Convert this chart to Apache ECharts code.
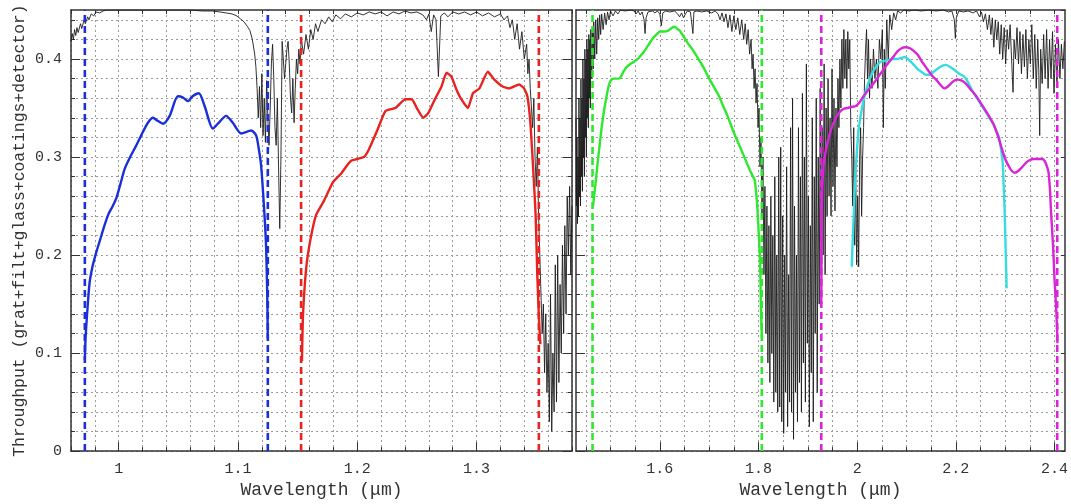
<!DOCTYPE html>
<html>
<head>
<meta charset="utf-8">
<script src="https://cdn.jsdelivr.net/npm/echarts@6/dist/echarts.min.js"></script>
<style>html,body{margin:0;padding:0;background:#fff;}#c{width:1071px;height:504px;}</style>
</head>
<body>
<div id="c"></div>
<script>
// ---------- tick values ----------
const leftXMinor = [0.96,0.98,1.00,1.02,1.04,1.06,1.08,1.10,1.12,1.14,1.16,1.18,1.20,1.22,1.24,1.26,1.28,1.30,1.32,1.34,1.36,1.38];
const leftXLabels = [1, 1.1, 1.2, 1.3];
const rightXMinor = [1.45,1.50,1.55,1.60,1.65,1.70,1.75,1.80,1.85,1.90,1.95,2.00,2.05,2.10,2.15,2.20,2.25,2.30,2.35,2.40];
const rightXLabels = [1.6, 1.8, 2, 2.2, 2.4];
const yMinor = [0,0.02,0.04,0.06,0.08,0.10,0.12,0.14,0.16,0.18,0.20,0.22,0.24,0.26,0.28,0.30,0.32,0.34,0.36,0.38,0.40,0.42,0.44];
const yLabels = [0, 0.1, 0.2, 0.3, 0.4];

// ---------- filter edge markers (dashed) ----------
const blueEdges = [0.9716, 1.125];
const redEdges = [1.1529, 1.3522];
const greenEdges = [1.4635, 1.8066];
const magentaEdges = [1.9272, 2.4055];

// ---------- atmospheric transmission (scaled) ----------
const telluricLeft = [
[0.960,0.418],[0.961,0.426],[0.962,0.420],[0.963,0.430],[0.964,0.424],[0.965,0.432],[0.966,0.427],[0.968,0.436],[0.969,0.431],[0.971,0.440],[0.972,0.436],[0.974,0.443],[0.975,0.440],[0.977,0.446],[0.979,0.444],[0.981,0.448],[0.984,0.447],[0.987,0.449],[0.990,0.450],[1.000,0.450],[1.020,0.450],[1.040,0.450],[1.060,0.450],[1.070,0.449],[1.078,0.449],[1.085,0.448],[1.090,0.447],[1.095,0.446],[1.099,0.444],[1.102,0.441],[1.105,0.438],[1.108,0.433],[1.110,0.429],[1.112,0.420],[1.114,0.405],[1.115,0.392],[1.116,0.370],[1.117,0.340],[1.118,0.372],[1.119,0.330],[1.120,0.385],[1.121,0.322],[1.122,0.360],[1.123,0.315],[1.124,0.378],[1.125,0.340],[1.126,0.312],[1.127,0.350],[1.128,0.395],[1.129,0.415],[1.130,0.380],[1.131,0.330],[1.132,0.312],[1.133,0.360],[1.134,0.290],[1.135,0.227],[1.136,0.300],[1.137,0.418],[1.138,0.400],[1.139,0.380],[1.140,0.395],[1.141,0.410],[1.142,0.418],[1.143,0.395],[1.144,0.360],[1.145,0.345],[1.146,0.380],[1.147,0.335],[1.148,0.370],[1.149,0.400],[1.150,0.385],[1.151,0.410],[1.152,0.395],[1.153,0.420],[1.155,0.405],[1.157,0.425],[1.159,0.410],[1.161,0.430],[1.163,0.420],[1.165,0.436],[1.167,0.428],[1.170,0.440],[1.173,0.436],[1.176,0.443],[1.179,0.438],[1.182,0.445],[1.186,0.441],[1.190,0.446],[1.195,0.443],[1.200,0.447],[1.205,0.445],[1.210,0.448],[1.215,0.446],[1.220,0.448],[1.225,0.444],[1.230,0.448],[1.235,0.446],[1.240,0.449],[1.245,0.447],[1.250,0.448],[1.255,0.445],[1.258,0.440],[1.260,0.446],[1.262,0.428],[1.264,0.445],[1.266,0.440],[1.268,0.382],[1.270,0.444],[1.273,0.447],[1.276,0.443],[1.280,0.448],[1.285,0.446],[1.290,0.448],[1.295,0.445],[1.300,0.448],[1.305,0.444],[1.310,0.447],[1.315,0.443],[1.320,0.446],[1.323,0.440],[1.326,0.444],[1.328,0.432],[1.330,0.440],[1.332,0.420],[1.334,0.436],[1.336,0.410],[1.338,0.428],[1.340,0.400],[1.342,0.415],[1.343,0.385],[1.344,0.400],[1.345,0.370],[1.347,0.330],[1.348,0.360],[1.349,0.300],[1.350,0.270],[1.351,0.310],[1.352,0.240],[1.353,0.200],[1.354,0.160],[1.355,0.120],[1.356,0.150],[1.357,0.080],[1.358,0.140],[1.359,0.060],[1.360,0.110],[1.361,0.030],[1.362,0.160],[1.363,0.020],[1.364,0.100],[1.365,0.040],[1.366,0.190],[1.367,0.050],[1.368,0.200],[1.369,0.070],[1.370,0.170],[1.371,0.100],[1.372,0.210],[1.373,0.120],[1.374,0.230],[1.375,0.140],[1.376,0.260],[1.377,0.200],[1.378,0.270],[1.379,0.180],[1.380,0.250]
];
const telluricRight = [
[1.430,0.340],[1.431,0.250],[1.432,0.320],[1.433,0.232],[1.434,0.300],[1.435,0.240],[1.436,0.360],[1.437,0.260],[1.438,0.340],[1.439,0.250],[1.440,0.380],[1.441,0.280],[1.442,0.360],[1.443,0.265],[1.444,0.400],[1.445,0.300],[1.446,0.380],[1.447,0.280],[1.448,0.410],[1.449,0.320],[1.450,0.400],[1.451,0.300],[1.452,0.420],[1.453,0.340],[1.454,0.410],[1.455,0.330],[1.456,0.425],[1.457,0.360],[1.458,0.420],[1.459,0.350],[1.460,0.430],[1.462,0.380],[1.463,0.432],[1.465,0.390],[1.466,0.438],[1.468,0.400],[1.470,0.440],[1.472,0.405],[1.474,0.442],[1.476,0.420],[1.478,0.445],[1.480,0.425],[1.482,0.446],[1.485,0.430],[1.488,0.447],[1.491,0.435],[1.494,0.448],[1.497,0.440],[1.500,0.449],[1.505,0.444],[1.510,0.449],[1.515,0.446],[1.520,0.450],[1.530,0.449],[1.540,0.450],[1.548,0.449],[1.552,0.446],[1.556,0.449],[1.560,0.445],[1.564,0.448],[1.568,0.440],[1.570,0.426],[1.572,0.442],[1.576,0.448],[1.580,0.446],[1.585,0.449],[1.590,0.447],[1.595,0.449],[1.600,0.446],[1.603,0.434],[1.606,0.447],[1.612,0.449],[1.620,0.448],[1.630,0.449],[1.636,0.446],[1.640,0.443],[1.644,0.447],[1.648,0.442],[1.652,0.446],[1.656,0.449],[1.662,0.448],[1.667,0.426],[1.669,0.448],[1.675,0.449],[1.685,0.448],[1.695,0.449],[1.705,0.447],[1.712,0.449],[1.718,0.446],[1.722,0.440],[1.726,0.447],[1.730,0.438],[1.734,0.446],[1.738,0.432],[1.742,0.445],[1.746,0.428],[1.750,0.444],[1.754,0.430],[1.758,0.442],[1.762,0.425],[1.766,0.440],[1.770,0.420],[1.773,0.436],[1.776,0.415],[1.779,0.430],[1.782,0.405],[1.785,0.420],[1.787,0.390],[1.789,0.405],[1.791,0.370],[1.793,0.390],[1.795,0.355],[1.797,0.375],[1.799,0.330],[1.801,0.350],[1.803,0.290],[1.805,0.320],[1.807,0.240],[1.809,0.300],[1.811,0.180],[1.813,0.270],[1.815,0.120],[1.817,0.250],[1.819,0.090],[1.821,0.230],[1.823,0.070],[1.825,0.260],[1.827,0.100],[1.829,0.220],[1.831,0.050],[1.833,0.280],[1.835,0.060],[1.837,0.200],[1.839,0.040],[1.841,0.300],[1.843,0.045],[1.845,0.310],[1.847,0.030],[1.849,0.240],[1.851,0.018],[1.853,0.200],[1.855,0.060],[1.857,0.290],[1.859,0.025],[1.861,0.180],[1.863,0.050],[1.865,0.330],[1.867,0.040],[1.869,0.360],[1.871,0.012],[1.873,0.250],[1.875,0.060],[1.877,0.200],[1.879,0.030],[1.881,0.330],[1.883,0.070],[1.885,0.280],[1.887,0.040],[1.889,0.365],[1.891,0.090],[1.893,0.300],[1.895,0.050],[1.897,0.395],[1.899,0.110],[1.901,0.260],[1.903,0.025],[1.905,0.230],[1.907,0.080],[1.909,0.340],[1.911,0.030],[1.913,0.280],[1.915,0.120],[1.917,0.360],[1.919,0.060],[1.921,0.300],[1.923,0.150],[1.925,0.370],[1.927,0.180],[1.929,0.330],[1.931,0.200],[1.933,0.395],[1.935,0.180],[1.937,0.350],[1.939,0.240],[1.941,0.380],[1.943,0.260],[1.945,0.340],[1.947,0.240],[1.949,0.390],[1.951,0.270],[1.953,0.360],[1.955,0.245],[1.957,0.350],[1.959,0.290],[1.961,0.380],[1.963,0.330],[1.965,0.400],[1.967,0.350],[1.969,0.420],[1.971,0.370],[1.973,0.430],[1.975,0.380],[1.977,0.420],[1.979,0.370],[1.981,0.428],[1.983,0.390],[1.985,0.420],[1.987,0.330],[1.989,0.300],[1.991,0.250],[1.993,0.330],[1.995,0.210],[1.997,0.290],[1.999,0.190],[2.001,0.260],[2.003,0.188],[2.005,0.300],[2.007,0.330],[2.009,0.240],[2.011,0.300],[2.013,0.330],[2.015,0.380],[2.017,0.410],[2.019,0.430],[2.021,0.380],[2.023,0.420],[2.025,0.360],[2.027,0.400],[2.030,0.370],[2.033,0.410],[2.036,0.380],[2.039,0.400],[2.042,0.370],[2.045,0.420],[2.048,0.400],[2.051,0.430],[2.053,0.330],[2.055,0.410],[2.057,0.370],[2.060,0.440],[2.063,0.400],[2.066,0.445],[2.070,0.430],[2.074,0.447],[2.078,0.440],[2.082,0.449],[2.088,0.447],[2.095,0.450],[2.105,0.449],[2.115,0.450],[2.130,0.449],[2.145,0.450],[2.160,0.449],[2.175,0.450],[2.185,0.448],[2.192,0.449],[2.197,0.440],[2.199,0.421],[2.201,0.442],[2.206,0.449],[2.215,0.448],[2.225,0.449],[2.235,0.447],[2.242,0.449],[2.248,0.443],[2.252,0.448],[2.256,0.438],[2.260,0.446],[2.264,0.430],[2.268,0.445],[2.271,0.425],[2.274,0.442],[2.277,0.412],[2.280,0.440],[2.283,0.420],[2.286,0.438],[2.289,0.405],[2.292,0.435],[2.295,0.400],[2.298,0.432],[2.301,0.395],[2.304,0.430],[2.307,0.410],[2.310,0.435],[2.313,0.400],[2.316,0.366],[2.318,0.420],[2.321,0.400],[2.324,0.432],[2.327,0.395],[2.330,0.428],[2.333,0.385],[2.336,0.425],[2.339,0.392],[2.342,0.430],[2.345,0.380],[2.348,0.420],[2.351,0.395],[2.354,0.435],[2.357,0.380],[2.360,0.425],[2.363,0.370],[2.366,0.420],[2.368,0.390],[2.370,0.322],[2.372,0.410],[2.375,0.375],[2.378,0.425],[2.381,0.380],[2.384,0.430],[2.387,0.370],[2.390,0.420],[2.393,0.380],[2.396,0.428],[2.399,0.365],[2.402,0.415],[2.405,0.375],[2.408,0.420],[2.411,0.380],[2.414,0.415],[2.417,0.390],[2.420,0.418]
];

// ---------- throughput curves ----------
const blueCurve = [[0.9716,0.093],[0.9722,0.115],[0.9735,0.140],[0.9756,0.172],[0.978,0.188],[0.981,0.202],[0.9845,0.216],[0.988,0.230],[0.9915,0.242],[0.995,0.250],[0.998,0.258],[1.002,0.275],[1.005,0.288],[1.010,0.301],[1.0148,0.312],[1.020,0.325],[1.0245,0.335],[1.0287,0.340],[1.0326,0.337],[1.0371,0.334],[1.0427,0.342],[1.0496,0.362],[1.0536,0.361],[1.058,0.357],[1.0619,0.362],[1.0672,0.365],[1.072,0.352],[1.0789,0.329],[1.0831,0.334],[1.0901,0.342],[1.0956,0.335],[1.1027,0.324],[1.111,0.327],[1.1152,0.322],[1.1172,0.310],[1.1194,0.291],[1.1222,0.241],[1.1236,0.207],[1.1245,0.160],[1.1250,0.115]];
const redCurve = [[1.1536,0.092],[1.1545,0.139],[1.1572,0.187],[1.1606,0.215],[1.1655,0.241],[1.1724,0.256],[1.1794,0.274],[1.1863,0.283],[1.1946,0.296],[1.2056,0.300],[1.2098,0.308],[1.2167,0.327],[1.2236,0.347],[1.2319,0.350],[1.2402,0.359],[1.2457,0.359],[1.2499,0.350],[1.2554,0.340],[1.2596,0.345],[1.2651,0.359],[1.2706,0.372],[1.2748,0.386],[1.2789,0.382],[1.2831,0.369],[1.2872,0.359],[1.2928,0.350],[1.2969,0.365],[1.3024,0.370],[1.3094,0.387],[1.3149,0.379],[1.3218,0.372],[1.3273,0.370],[1.3356,0.374],[1.3398,0.370],[1.3426,0.362],[1.3453,0.332],[1.3481,0.274],[1.3495,0.241],[1.3509,0.180],[1.3525,0.130],[1.3535,0.109]];
const greenCurve = [[1.4645,0.250],[1.469,0.270],[1.473,0.290],[1.477,0.308],[1.482,0.330],[1.487,0.348],[1.492,0.362],[1.497,0.374],[1.502,0.379],[1.507,0.380],[1.514,0.380],[1.520,0.381],[1.527,0.388],[1.533,0.392],[1.540,0.395],[1.547,0.397],[1.557,0.401],[1.564,0.405],[1.570,0.409],[1.579,0.416],[1.587,0.422],[1.595,0.426],[1.600,0.428],[1.608,0.428],[1.617,0.429],[1.625,0.432],[1.630,0.433],[1.635,0.431],[1.640,0.429],[1.648,0.423],[1.657,0.416],[1.667,0.409],[1.677,0.401],[1.689,0.391],[1.700,0.380],[1.710,0.371],[1.720,0.362],[1.730,0.350],[1.737,0.342],[1.750,0.325],[1.767,0.305],[1.783,0.286],[1.790,0.279],[1.792,0.277],[1.795,0.265],[1.798,0.245],[1.803,0.194],[1.805,0.143],[1.807,0.116]];
const magentaCurve = [[1.9272,0.150],[1.9278,0.210],[1.9285,0.255],[1.932,0.292],[1.940,0.315],[1.947,0.328],[1.955,0.338],[1.963,0.345],[1.972,0.349],[1.980,0.350],[1.988,0.351],[1.997,0.352],[2.005,0.356],[2.013,0.362],[2.023,0.369],[2.033,0.375],[2.043,0.382],[2.053,0.389],[2.063,0.396],[2.073,0.402],[2.082,0.408],[2.090,0.411],[2.098,0.412],[2.107,0.411],[2.115,0.408],[2.123,0.404],[2.133,0.396],[2.143,0.389],[2.152,0.383],[2.160,0.379],[2.168,0.374],[2.177,0.370],[2.184,0.372],[2.190,0.375],[2.197,0.378],[2.203,0.379],[2.212,0.378],[2.220,0.375],[2.230,0.369],[2.240,0.363],[2.248,0.357],[2.257,0.350],[2.267,0.342],[2.277,0.333],[2.285,0.322],[2.293,0.309],[2.300,0.298],[2.307,0.291],[2.313,0.286],[2.320,0.284],[2.327,0.286],[2.333,0.289],[2.342,0.294],[2.350,0.297],[2.358,0.298],[2.367,0.298],[2.374,0.298],[2.380,0.296],[2.385,0.290],[2.388,0.284],[2.391,0.265],[2.393,0.244],[2.397,0.210],[2.400,0.176],[2.404,0.140],[2.406,0.110]];
const cyanCurve = [[1.989,0.188],[1.9905,0.210],[1.992,0.227],[1.9945,0.260],[1.997,0.288],[2.000,0.310],[2.003,0.328],[2.008,0.345],[2.013,0.358],[2.021,0.373],[2.030,0.385],[2.038,0.392],[2.047,0.397],[2.055,0.398],[2.063,0.399],[2.072,0.400],[2.080,0.400],[2.089,0.401],[2.097,0.402],[2.105,0.399],[2.113,0.395],[2.122,0.390],[2.130,0.387],[2.139,0.384],[2.147,0.384],[2.155,0.387],[2.163,0.390],[2.172,0.393],[2.180,0.394],[2.188,0.392],[2.197,0.389],[2.207,0.385],[2.217,0.382],[2.225,0.376],[2.233,0.368],[2.243,0.360],[2.253,0.352],[2.263,0.344],[2.273,0.336],[2.280,0.329],[2.287,0.321],[2.291,0.310],[2.295,0.294],[2.297,0.270],[2.299,0.244],[2.301,0.205],[2.303,0.166]];

// ---------- styling ----------
const FONT = 'Liberation Mono';
const AXC = '#333';
const GRIDC = '#9a9a9a';
const Y_MAX = 0.45;

function frameAxis(extra) {
  return Object.assign({
    type: 'value',
    axisLine: { show: true, onZero: false, lineStyle: { color: AXC, width: 1.5 } },
    axisTick: { show: true, inside: true, length: 4, lineStyle: { color: AXC, width: 1 } },
    axisLabel: { show: false },
    splitLine: { show: false }
  }, extra);
}
const dotted = { show: true, lineStyle: { color: GRIDC, width: 1, type: [2, 3] } };
const labelStyle = { fontFamily: FONT, fontSize: 15, color: '#333' };
const fmt = v => String(+v.toFixed(2));

const xAxis = [];
const yAxis = [];
// grid 0 (left panel) x axes
xAxis.push(frameAxis({ gridIndex: 0, position: 'bottom', min: 0.96, max: 1.38, interval: 0.02,
  axisTick: { show: true, inside: true, length: 4, customValues: leftXMinor, lineStyle: { color: AXC } },
  splitLine: dotted }));
xAxis.push(frameAxis({ gridIndex: 0, position: 'bottom', min: 0.96, max: 1.38,
  axisLine: { show: false, onZero: false },
  axisTick: { show: true, inside: true, length: 9, customValues: leftXLabels, lineStyle: { color: AXC } },
  axisLabel: Object.assign({ show: true, customValues: leftXLabels, margin: 10, formatter: fmt }, labelStyle),
  name: 'Wavelength (\u03bcm)', nameLocation: 'middle', nameGap: 27,
  nameTextStyle: { fontFamily: FONT, fontSize: 18, color: '#333' } }));
xAxis.push(frameAxis({ gridIndex: 0, position: 'top', min: 0.96, max: 1.38,
  axisTick: { show: true, inside: true, length: 4, customValues: leftXMinor, lineStyle: { color: AXC } } }));
// grid 1 (right panel) x axes
xAxis.push(frameAxis({ gridIndex: 1, position: 'bottom', min: 1.43, max: 2.421,
  axisTick: { show: true, inside: true, length: 4, customValues: rightXMinor, lineStyle: { color: AXC } },
  splitLine: dotted }));
xAxis.push(frameAxis({ gridIndex: 1, position: 'bottom', min: 1.43, max: 2.421,
  axisLine: { show: false, onZero: false },
  axisTick: { show: true, inside: true, length: 9, customValues: rightXLabels, lineStyle: { color: AXC } },
  axisLabel: Object.assign({ show: true, customValues: rightXLabels, margin: 10, formatter: fmt }, labelStyle),
  name: 'Wavelength (\u03bcm)', nameLocation: 'middle', nameGap: 27,
  nameTextStyle: { fontFamily: FONT, fontSize: 18, color: '#333' } }));
xAxis.push(frameAxis({ gridIndex: 1, position: 'top', min: 1.43, max: 2.421,
  axisTick: { show: true, inside: true, length: 4, customValues: rightXMinor, lineStyle: { color: AXC } } }));

// y axes
yAxis.push(frameAxis({ gridIndex: 0, position: 'left', min: 0, max: Y_MAX, interval: 0.02,
  axisTick: { show: true, inside: true, length: 4, customValues: yMinor, lineStyle: { color: AXC } },
  axisLabel: Object.assign({ show: true, customValues: yLabels, margin: 9, formatter: fmt }, labelStyle),
  splitLine: dotted,
  name: 'Throughput (grat+filt+glass+coatings+detector)', nameLocation: 'middle', nameGap: 43, nameRotate: 90,
  nameTextStyle: { fontFamily: FONT, fontSize: 16.4, color: '#333' } }));
yAxis.push(frameAxis({ gridIndex: 0, position: 'left', min: 0, max: Y_MAX,
  axisLine: { show: false, onZero: false },
  axisTick: { show: true, inside: true, length: 9, customValues: yLabels, lineStyle: { color: AXC } } }));
yAxis.push(frameAxis({ gridIndex: 0, position: 'right', min: 0, max: Y_MAX,
  axisTick: { show: true, inside: true, length: 4, customValues: yMinor, lineStyle: { color: AXC } } }));
yAxis.push(frameAxis({ gridIndex: 0, position: 'right', min: 0, max: Y_MAX,
  axisLine: { show: false, onZero: false },
  axisTick: { show: true, inside: true, length: 9, customValues: yLabels, lineStyle: { color: AXC } } }));
yAxis.push(frameAxis({ gridIndex: 1, position: 'left', min: 0, max: Y_MAX, interval: 0.02,
  axisTick: { show: true, inside: true, length: 4, customValues: yMinor, lineStyle: { color: AXC } },
  splitLine: dotted }));
yAxis.push(frameAxis({ gridIndex: 1, position: 'left', min: 0, max: Y_MAX,
  axisLine: { show: false, onZero: false },
  axisTick: { show: true, inside: true, length: 9, customValues: yLabels, lineStyle: { color: AXC } } }));
yAxis.push(frameAxis({ gridIndex: 1, position: 'right', min: 0, max: Y_MAX }));

function curve(data, color, xi, yi, width, smooth) {
  return { type: 'line', data: data, xAxisIndex: xi, yAxisIndex: yi, showSymbol: false, symbol: 'none',
    smooth: smooth, lineStyle: { color: color, width: width }, silent: true, animation: false, z: 3 };
}
function edges(xs, color, xi, yi) {
  return xs.map(x => ({ type: 'line', data: [[x, 0], [x, Y_MAX]], xAxisIndex: xi, yAxisIndex: yi,
    symbol: 'none', lineStyle: { color: color, width: 2.6, type: [7, 4] }, silent: true, animation: false, z: 4 }));
}

const series = [
  Object.assign(curve(telluricLeft, '#1c1c1c', 0, 0, 0.9, false), { z: 2 }),
  Object.assign(curve(telluricRight, '#1c1c1c', 3, 4, 0.9, false), { z: 2 }),
  curve(blueCurve, '#1a2fd8', 0, 0, 2.4, 0.25),
  curve(redCurve, '#e8231f', 0, 0, 2.4, 0.15),
  curve(greenCurve, '#2ee82e', 3, 4, 2.4, 0.25),
  curve(cyanCurve, '#35dde0', 3, 4, 2.4, 0.25),
  curve(magentaCurve, '#d825d8', 3, 4, 2.4, 0.25),
  ...edges(blueEdges, '#1a2fd8', 0, 0),
  ...edges(redEdges, '#e8231f', 0, 0),
  ...edges(greenEdges, '#2ee82e', 3, 4),
  ...edges(magentaEdges, '#d825d8', 3, 4)
];

const chart = echarts.init(document.getElementById('c'), null, { renderer: 'canvas' });
chart.setOption({
  backgroundColor: '#fff',
  animation: false,
  grid: [
    { left: 71, top: 10, width: 501, height: 445 },
    { left: 576, top: 10, width: 498, height: 445 }
  ],
  xAxis: xAxis,
  yAxis: yAxis,
  series: series
});
</script>
</body>
</html>
